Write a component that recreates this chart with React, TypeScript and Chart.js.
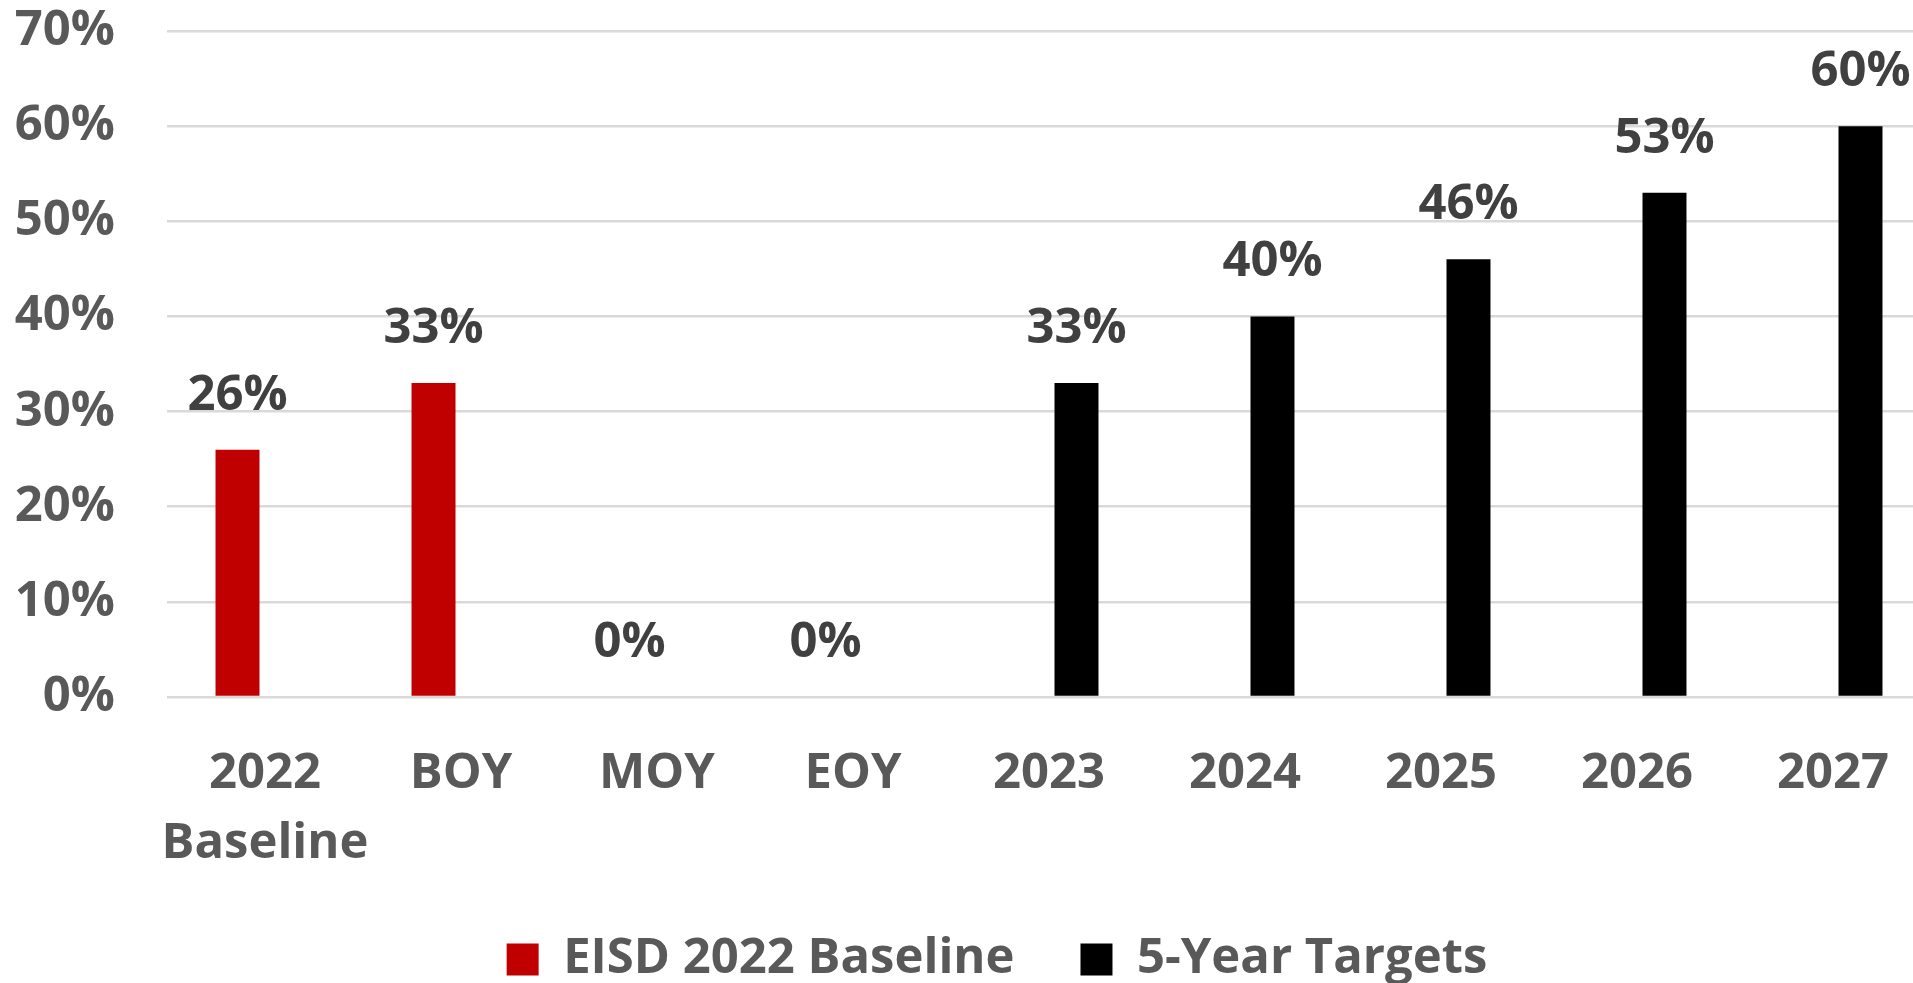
import React, { useEffect, useRef } from 'react';
import { Chart, registerables } from 'chart.js';

Chart.register(...registerables);

// ---- Data ----
const categories: (string | string[])[] = [['2022', 'Baseline'], 'BOY', 'MOY', 'EOY', '2023', '2024', '2025', '2026', '2027'];
const baselineValues: (number | null)[] = [26, 33, 0, 0, null, null, null, null, null];
const targetValues: (number | null)[] = [null, null, null, null, 33, 40, 46, 53, 60];
const yMin = 0;
const yMax = 70;
const yStep = 10;

const seriesNames = ['EISD 2022 Baseline', '5-Year Targets'];
const seriesColors = ['#C00000', '#000000'];

const FONT = '"Open Sans", "Noto Sans", sans-serif';
const FONT_SIZE = 49;

export default function App() {
  const ref = useRef<HTMLCanvasElement>(null);

  useEffect(() => {
    if (!ref.current) return;

    const valueLabels = {
      id: 'valueLabels',
      afterDatasetsDraw(chart: any) {
        const ctx = chart.ctx;
        ctx.save();
        ctx.font = `bold ${FONT_SIZE}px ${FONT}`;
        ctx.fillStyle = '#404040';
        ctx.textAlign = 'center';
        ctx.textBaseline = 'alphabetic';
        chart.data.datasets.forEach((ds: any, di: number) => {
          const meta = chart.getDatasetMeta(di);
          meta.data.forEach((el: any, i: number) => {
            const v = ds.data[i];
            if (v === null || v === undefined) return;
            ctx.fillText(`${v}%`, el.x, el.y - 40);
          });
        });
        ctx.restore();
      },
    };

    const chart = new Chart(ref.current, {
      type: 'bar',
      data: {
        labels: categories,
        datasets: [
          {
            label: seriesNames[0],
            data: baselineValues,
            backgroundColor: seriesColors[0],
            categoryPercentage: 0.561,
            barPercentage: 0.8,
          },
          {
            label: seriesNames[1],
            data: targetValues,
            backgroundColor: seriesColors[1],
            categoryPercentage: 0.561,
            barPercentage: 0.8,
          },
        ],
      },
      options: {
        responsive: false,
        animation: false,
        layout: { padding: { top: 31, left: 0, right: 0, bottom: 0 } },
        plugins: {
          tooltip: { enabled: false },
          legend: {
            position: 'bottom',
            labels: {
              boxWidth: 32,
              boxHeight: 32,
              padding: 66,
              color: '#595959',
              font: { family: FONT, size: FONT_SIZE, weight: 'bold' },
            },
          },
        },
        scales: {
          x: {
            grid: { display: false },
            border: { display: false },
            ticks: {
              color: '#595959',
              font: { family: FONT, size: FONT_SIZE, weight: 'bold', lineHeight: 1.43 },
              padding: 34,
              maxRotation: 0,
              minRotation: 0,
              autoSkip: false,
            },
            afterFit: (s: any) => {
              s.height = 172;
            },
          },
          y: {
            min: yMin,
            max: yMax,
            border: { display: false },
            grid: {
              color: '#d9d9d9',
              lineWidth: 2.5,
              drawTicks: true,
              tickLength: 52,
              tickColor: 'rgba(0,0,0,0)',
            },
            ticks: {
              stepSize: yStep,
              padding: 0,
              color: '#595959',
              font: { family: FONT, size: FONT_SIZE, weight: 'bold' },
              callback: (v: any) => `${v}%`,
            },
            afterFit: (s: any) => {
              s.width = 167;
            },
          },
          yRightSpacer: {
            position: 'right',
            display: true,
            grid: { display: false, drawTicks: false },
            border: { display: false },
            ticks: { display: false },
            afterFit: (s: any) => {
              s.width = 63;
            },
          },
        },
      },
      plugins: [valueLabels],
    } as any);

    return () => chart.destroy();
  }, []);

  return (
    <div
      style={{
        position: 'fixed',
        left: 0,
        top: 0,
        width: 1913,
        height: 983,
        overflow: 'hidden',
        background: '#ffffff',
      }}
    >
      <canvas ref={ref} width={1994} height={994} style={{ display: 'block' }} />
    </div>
  );
}
